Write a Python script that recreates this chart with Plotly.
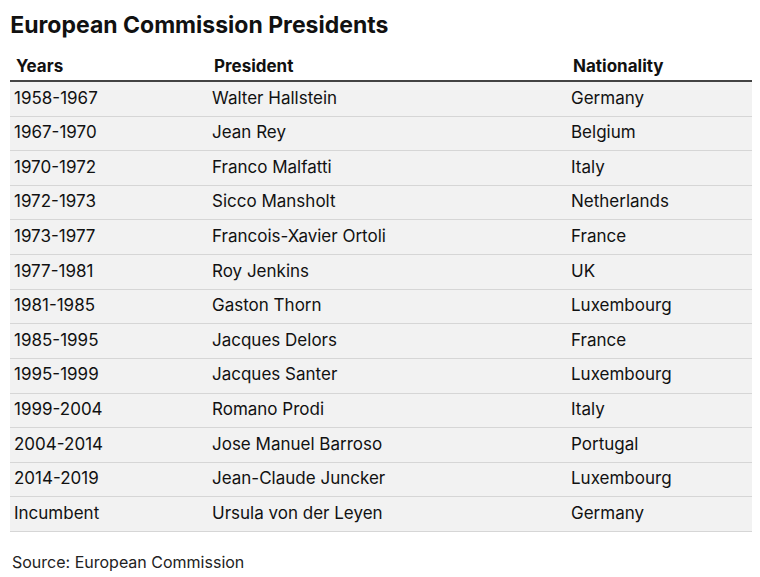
import plotly.graph_objects as go

years = ["1958-1967", "1967-1970", "1970-1972", "1972-1973", "1973-1977", "1977-1981",
         "1981-1985", "1985-1995", "1995-1999", "1999-2004", "2004-2014", "2014-2019", "Incumbent"]
presidents = ["Walter Hallstein", "Jean Rey", "Franco Malfatti", "Sicco Mansholt",
              "Francois-Xavier Ortoli", "Roy Jenkins", "Gaston Thorn", "Jacques Delors",
              "Jacques Santer", "Romano Prodi", "Jose Manuel Barroso", "Jean-Claude Juncker",
              "Ursula von der Leyen"]
nationality = ["Germany", "Belgium", "Italy", "Netherlands", "France", "UK", "Luxembourg",
               "France", "Luxembourg", "Italy", "Portugal", "Luxembourg", "Germany"]
headers = ["Years", "President", "Nationality"]

W = 758
col_x = [4, 202, 561]
rows = list(range(len(years)))
font = dict(family="Inter", size=17, color="#111")

fig = go.Figure()
fig.add_trace(go.Bar(y=rows, x=[W] * len(rows), orientation="h", width=1,
                     marker=dict(color="#f2f2f2", line=dict(color="#d6d6d6", width=1)),
                     hoverinfo="skip"))
for cx, col in zip(col_x, [years, presidents, nationality]):
    fig.add_trace(go.Scatter(x=[cx] * len(col), y=rows, text=col, mode="text",
                             textposition="middle right", textfont=font, hoverinfo="skip"))

for cx, h in zip(col_x, headers):
    fig.add_annotation(x=cx, y=1, xref="x", yref="paper", yshift=4, text="<b>" + h + "</b>",
                       showarrow=False, xanchor="left", yanchor="bottom", font=font)
fig.add_shape(type="line", xref="x", yref="paper", x0=0, x1=W, y0=1.002, y1=1.002,
              line=dict(color="#444", width=2))

fig.update_layout(
    width=760, height=577, margin=dict(l=2, r=0, t=74, b=53),
    plot_bgcolor="white", paper_bgcolor="white", showlegend=False, bargap=0,
    title=dict(text="<b>European Commission Presidents</b>", x=0.003, xanchor="left",
               y=0.97, yanchor="middle", font=dict(family="Inter", size=23, color="#111")),
    xaxis=dict(range=[0, W], visible=False, fixedrange=True),
    yaxis=dict(range=[len(rows) - 0.5, -0.5], visible=False, fixedrange=True),
)
fig.add_annotation(x=0, y=-0.067, xref="paper", yref="paper", text="Source: European Commission",
                   showarrow=False, xanchor="left", yanchor="middle",
                   font=dict(family="Inter", size=16, color="#222"))
fig.write_html("out.html")
